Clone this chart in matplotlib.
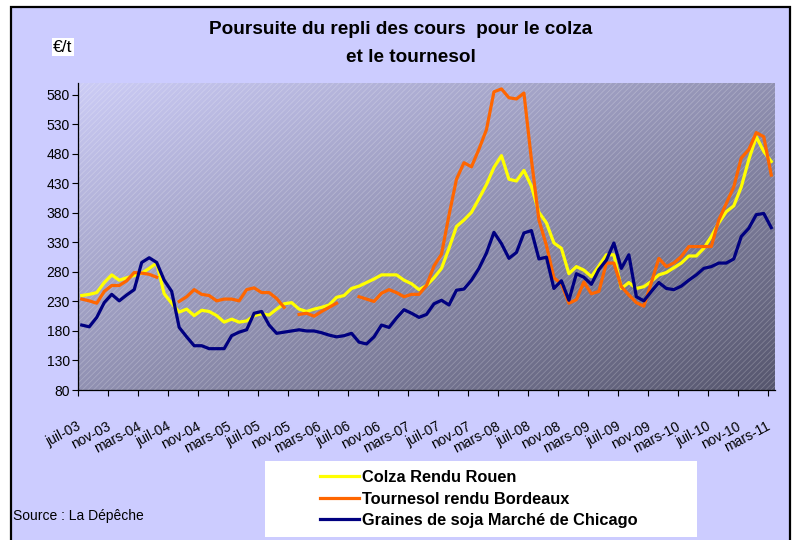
import matplotlib.pyplot as plt
import matplotlib.transforms as mtransforms
import numpy as np
from matplotlib.patches import Rectangle

plt.rcParams['font.family'] = ['Liberation Sans', 'DejaVu Sans']
plt.rcParams['hatch.linewidth'] = 0.6

# monthly prices, juil-03 .. mars-11 (EUR/t)
months = ['janv', 'févr', 'mars', 'avr', 'mai', 'juin',
          'juil', 'août', 'sept', 'oct', 'nov', 'déc']

colza = [240, 242, 245, 262, 275, 266, 270, 274, 278, 286, 295, 243, 227, 212, 217, 206,
         215, 213, 206, 195, 200, 195, 197, 206, 209, 207, 217, 226, 228, 217, 213, 217,
         220, 224, 237, 240, 252, 256, 262, 268, 275, 275, 275, 266, 260, 250, 257, 270,
         286, 320, 357, 368, 381, 404, 428, 457, 477, 437, 434, 452, 425, 381, 363, 329,
         320, 277, 289, 283, 272, 290, 309, 309, 252, 262, 252, 255, 264, 275, 279, 287,
         295, 307, 307, 320, 340, 363, 382, 392, 424, 470, 509, 484, 467]

tournesol = [234, 231, 227, 247, 257, 257, 265, 279, 278, 276, 271, np.nan, np.nan, 230, 238, 250,
             242, 240, 231, 234, 234, 231, 250, 253, 245, 245, 235, 220, np.nan, 208, 210, 205,
             213, 220, 227, np.nan, np.nan, 238, 234, 230, 244, 250, 245, 238, 242, 242, 257, 290,
             310, 376, 437, 465, 458, 488, 521, 585, 590, 575, 573, 583, 470, 368, 325, 270,
             260, 227, 233, 263, 243, 247, 295, 295, 255, 241, 228, 222, 262, 303, 289, 295,
             306, 323, 323, 323, 323, 368, 396, 424, 473, 487, 516, 509, 444]

soja = [190, 187, 203, 228, 242, 231, 241, 250, 296, 304, 296, 266, 247, 186, 170, 155,
        155, 150, 150, 150, 172, 178, 182, 210, 213, 190, 176, 178, 180, 182, 180, 180,
        177, 173, 170, 172, 176, 161, 158, 170, 190, 186, 202, 216, 210, 203, 208, 226,
        232, 224, 249, 251, 266, 286, 312, 347, 328, 303, 313, 346, 350, 302, 305, 252,
        265, 232, 277, 271, 259, 284, 300, 329, 286, 309, 238, 231, 247, 262, 252, 250,
        256, 266, 275, 286, 289, 295, 295, 302, 340, 354, 377, 379, 355]

labels = []
for k in range(len(colza)):
    m = (6 + k) % 12
    y = 3 + (6 + k) // 12
    labels.append('%s-%02d' % (months[m], y))

x = np.arange(len(colza))

fig = plt.figure(figsize=(7.94, 5.40), dpi=100, facecolor='white')

# lavender frame
fig.patches.append(Rectangle((11 / 794, -0.02), 779 / 794, 1 - 7 / 540 + 0.02,
                             transform=fig.transFigure, facecolor='#ccccff',
                             edgecolor='black', lw=1.6, zorder=-5))

ax = fig.add_axes([78 / 794, 1 - 390 / 540, 697 / 794, 307 / 540])
ax.set_zorder(1)

# gradient background, light top-left to dark bottom-right
gx, gy = np.meshgrid(np.linspace(0, 1, 200), np.linspace(0, 1, 200))
t = (gx + gy) / 2
c0 = np.array([204, 204, 246]) / 255
c1 = np.array([86, 86, 110]) / 255
img = c0 + (c1 - c0) * t[..., None]
ax.imshow(img, extent=[0, 1, 0, 1], origin='upper', transform=ax.transAxes,
          aspect='auto', zorder=0)
ax.add_patch(Rectangle((0, 0), 1, 1, transform=ax.transAxes, fill=False,
                       hatch='//////', edgecolor=(1, 1, 1, 0.22), lw=0, zorder=0.5))

ax.plot(x, colza, color='#ffff00', lw=2.3, label='Colza Rendu Rouen', zorder=3)
ax.plot(x, tournesol, color='#ff6600', lw=2.3, label='Tournesol rendu Bordeaux', zorder=3)
ax.plot(x, soja, color='#000080', lw=2.3, label='Graines de soja Marché de Chicago', zorder=3)

ax.set_xlim(-0.5, len(x) - 0.5)
ax.set_ylim(80, 600)
ax.set_yticks(np.arange(80, 600, 50))
ax.tick_params(axis='y', labelsize=10, length=4, width=0.8, pad=2)

ax.set_xticks(x[::4])
ax.set_xticklabels(labels[::4], rotation=28, ha='right', rotation_mode='anchor', fontsize=10)
ax.tick_params(axis='x', which='major', length=0, pad=21)
ax.set_xticks(np.arange(-0.5, len(x) - 1, 4), minor=True)
ax.tick_params(axis='x', which='minor', length=4, width=0.8)
# nudge the slanted labels a little to the left
shift = mtransforms.ScaledTranslation(-5 / 100, 0, fig.dpi_scale_trans)
for lab in ax.get_xticklabels():
    lab.set_transform(lab.get_transform() + shift)

for s in ['top', 'right']:
    ax.spines[s].set_visible(False)
ax.spines['left'].set_linewidth(0.9)
ax.spines['bottom'].set_linewidth(0.9)

fig.text(401 / 794, 1 - 30 / 540, 'Poursuite du repli des cours  pour le colza',
         ha='center', va='center', fontsize=13.7, fontweight='bold')
fig.text(411 / 794, 1 - 58 / 540, 'et le tournesol',
         ha='center', va='center', fontsize=13.7, fontweight='bold')
fig.text(63 / 794, 1 - 47 / 540, '€/t', ha='center', va='center', fontsize=12.5,
         bbox=dict(facecolor='white', edgecolor='none', pad=1))

fig.text(13 / 794, 1 - 516 / 540, 'Source : La Dépêche', ha='left', va='center', fontsize=10)

# legend on a white box
fig.patches.append(Rectangle((265 / 794, 1 - 537 / 540), 432 / 794, 76 / 540,
                             transform=fig.transFigure, facecolor='white',
                             edgecolor='none', zorder=1))
leg = fig.legend(loc='upper left', bbox_to_anchor=(320 / 794, 1 - 470 / 540),
                 frameon=False, fontsize=11.8, handlelength=2.4, handletextpad=0.15,
                 labelspacing=0.4, borderpad=0, borderaxespad=0)
for txt in leg.get_texts():
    txt.set_fontweight('bold')
leg.set_zorder(2)

plt.savefig('out.png', dpi=100, facecolor='white')
